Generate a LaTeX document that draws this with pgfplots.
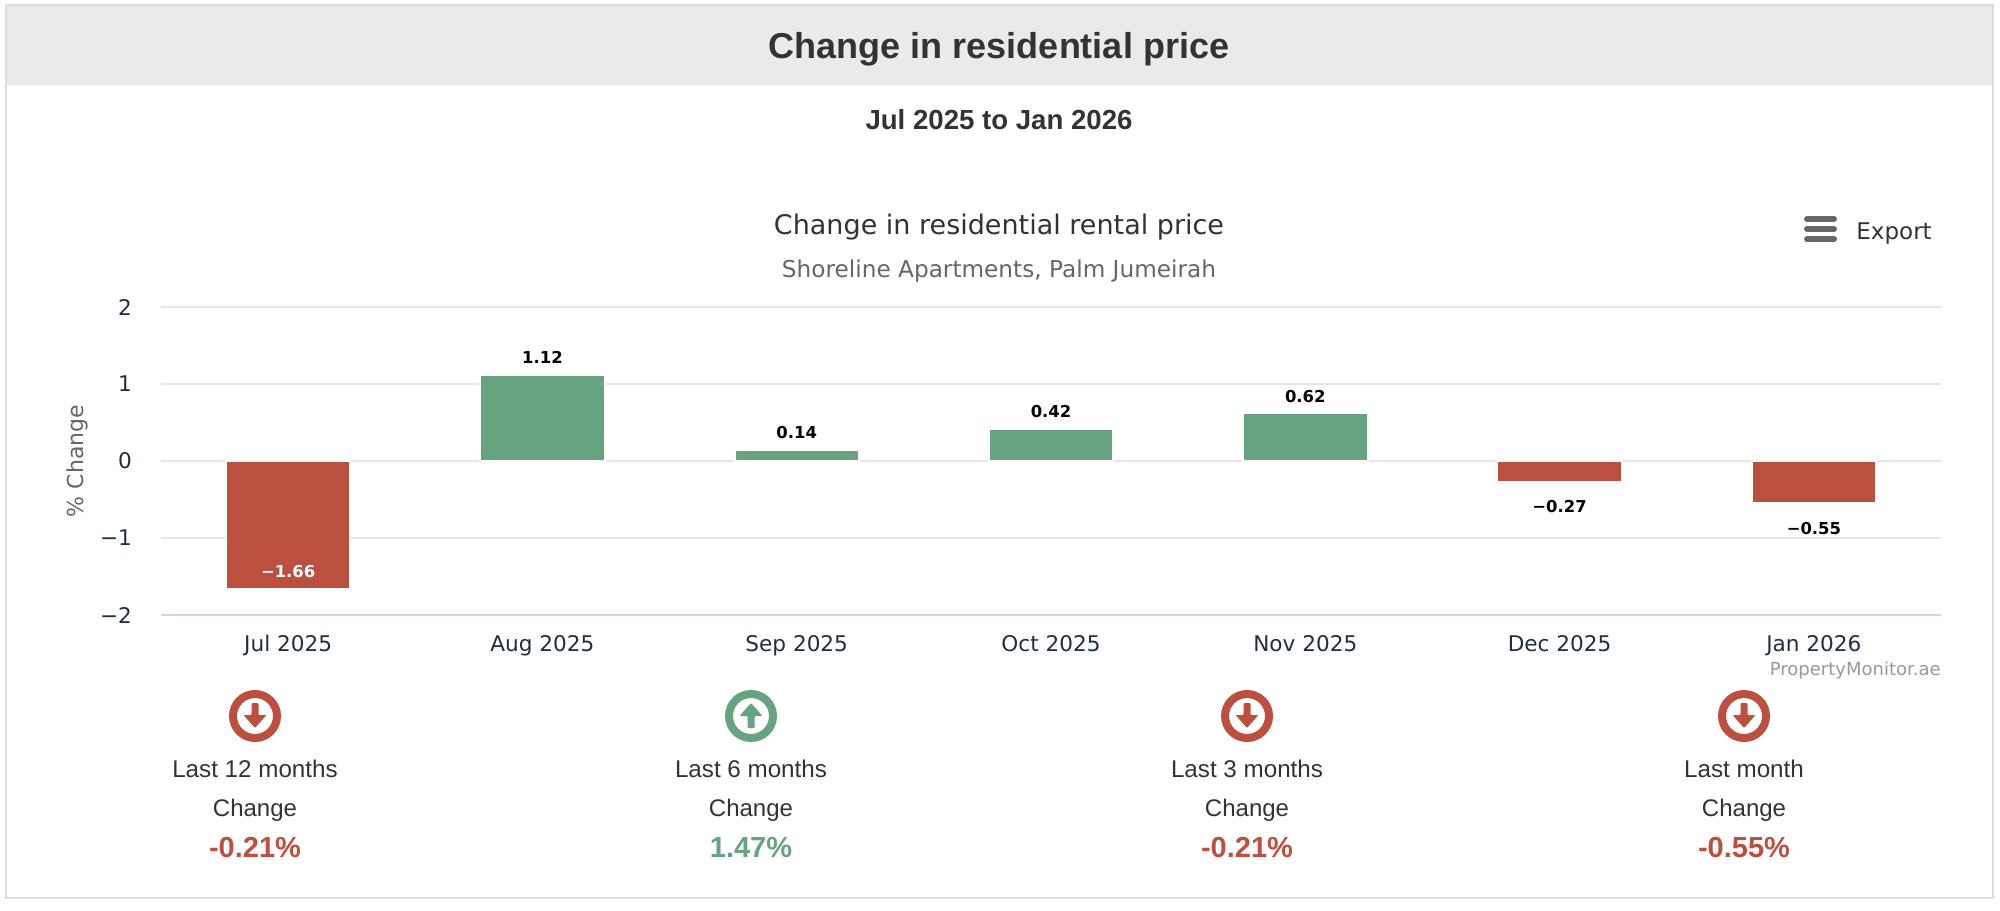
\documentclass[border=0pt]{standalone}
\usepackage{fontspec}
\setmainfont{Liberation Sans}
\newfontfamily\hc{DejaVu Sans}
\usepackage{pgfplots}
\pgfplotsset{compat=1.18}

\definecolor{upgreen}{HTML}{67A380}
\definecolor{downred}{HTML}{BC5040}
\definecolor{gridgrey}{HTML}{E6E6E6}
\definecolor{axisblue}{HTML}{CCD6EB}
\definecolor{headgrey}{HTML}{E9EAEC}
\definecolor{ticknavy}{HTML}{1F2F40}
\definecolor{bordergrey}{HTML}{DDDDDD}
\newcommand{\fs}[1]{\fontsize{#1}{#1}\selectfont}

% one KPI column: icon, two lines of text, value
\newcommand{\kpi}[5]{%
  \draw[#2, line width=4pt] (#1,716) circle (22);
  \ifnum#5=1
    \fill[#2, rounded corners=0.5pt] (#1-3.5,728) -- (#1-3.5,716) -- (#1-11.5,716) -- (#1,703) -- (#1+11.5,716) -- (#1+3.5,716) -- (#1+3.5,728) -- cycle;
  \else
    \fill[#2, rounded corners=0.5pt] (#1-3.5,703) -- (#1-3.5,715) -- (#1-11.5,715) -- (#1,728) -- (#1+11.5,715) -- (#1+3.5,715) -- (#1+3.5,703) -- cycle;
  \fi
  \node[text=black!80, font=\fs{12.1}] at (#1,769) {#3};
  \node[text=black!80, font=\fs{12}] at (#1,810) {Change};
  \node[text=#2, font=\fs{14.5}\bfseries] at (#1,848) {#4};
}

\begin{document}
\begin{tikzpicture}
  % page and panel, drawn in reference pixels with y going down
  \begin{scope}[x=0.5pt, y=-0.5pt, inner sep=0pt]
    \path[use as bounding box, fill=white] (0,0) rectangle (2000,910);
    \fill[headgrey] (6,5) rectangle (1993,85);
    \draw[bordergrey, line width=1pt] (6,5) rectangle (1993,898);
    \node[text=black!80, font=\fs{18}\bfseries] at (999,49) {Change in residential price};
    \node[text=black!80, font=\fs{13.8}\bfseries] at (999,120) {Jul 2025 to Jan 2026};
    \node[text=black!80, font=\hc\fs{13.5}] at (999,227) {Change in residential rental price};
    \node[text=black!60, font=\hc\fs{11.6}] at (999,271) {Shoreline Apartments, Palm Jumeirah};
    \foreach \yy in {219,229,239}
      \draw[black!60, line width=3pt, line cap=round] (1807,\yy) -- (1834,\yy);
    \node[text=black!80, font=\hc\fs{11.5}, anchor=west] at (1856,234) {Export};
    \node[text=black!40, font=\hc\fs{9}, anchor=east] at (1941,671) {PropertyMonitor.ae};
    \node[text=black!60, font=\hc\fs{11}, rotate=90] at (77,461) {\% Change};
    \kpi{255}{downred}{Last 12 months}{-0.21\%}{0}
    \kpi{751}{upgreen}{Last 6 months}{1.47\%}{1}
    \kpi{1247}{downred}{Last 3 months}{-0.21\%}{0}
    \kpi{1744}{downred}{Last month}{-0.55\%}{0}
  \end{scope}

  \begin{axis}[
    at={(80.5pt,-307.5pt)}, anchor=south west,
    scale only axis, width=890pt, height=154pt,
    xmin=-0.5, xmax=6.5, ymin=-2, ymax=2,
    axis x line=bottom, axis y line=left,
    x axis line style={draw=axisblue, line width=1pt, -},
    y axis line style={draw=none},
    major tick length=0pt,
    ymajorgrids, grid style={gridgrey, line width=1pt},
    xtick={0,1,2,3,4,5,6},
    xticklabels={Jul 2025,Aug 2025,Sep 2025,Oct 2025,Nov 2025,Dec 2025,Jan 2026},
    ytick={-2,-1,0,1,2},
    yticklabels={−2,−1,0,1,2},
    ticklabel style={font=\hc\fs{10.8}, text=ticknavy},
    xticklabel style={yshift=-6.5pt},
    yticklabel style={xshift=-11pt},
    ybar, bar width=62.2pt, bar shift=0pt,
    clip=false,
    point meta=explicit symbolic,
    nodes near coords,
    nodes near coords style={font=\hc\fs{8.2}\bfseries, inner sep=0pt},
  ]
    \addplot[fill=upgreen, draw=white, line width=1pt,
      every node near coord/.append style={anchor=south, yshift=5pt, text=black}]
      coordinates {(1,1.12)[1.12] (2,0.14)[0.14] (3,0.42)[0.42] (4,0.62)[0.62]};
    \addplot[fill=downred, draw=white, line width=1pt,
      every node near coord/.append style={anchor=north, yshift=-9pt, text=black}]
      coordinates {(5,-0.27)[−0.27] (6,-0.55)[−0.55]};
    % the label of the tall bar sits inside it, in white
    \addplot[fill=downred, draw=white, line width=1pt,
      every node near coord/.append style={anchor=south, yshift=5pt, text=white}]
      coordinates {(0,-1.66)[−1.66]};
  \end{axis}
\end{tikzpicture}
\end{document}
